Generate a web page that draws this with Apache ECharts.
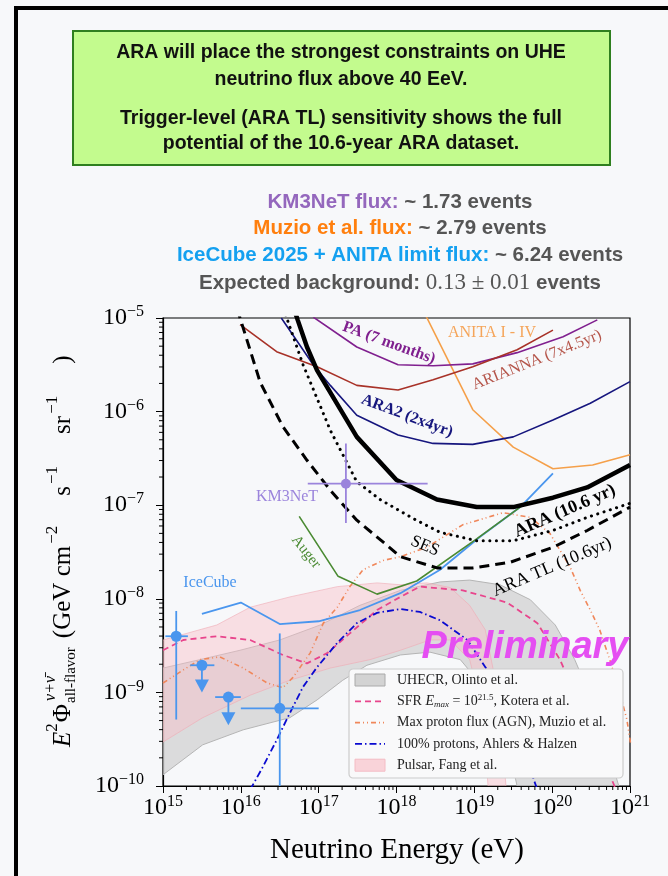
<!DOCTYPE html>
<html>
<head>
<meta charset="utf-8">
<script src="https://cdn.jsdelivr.net/npm/echarts@6/dist/echarts.min.js"></script>
<style>
html, body { margin: 0; padding: 0; background: #f7f8fa; }
#chart { width: 668px; height: 876px; }
</style>
</head>
<body>
<div id="chart"></div>
<script>
// all curves are [log10(E / eV), log10(E^2 Phi / GeV cm^-2 s^-1 sr^-1)]
var araSolid = [[16.69,-4.92],[16.73,-5.02],[16.85,-5.31],[16.98,-5.56],[17.49,-6.27],[18.0,-6.73],[18.52,-6.94],[19.03,-7.02],[19.50,-7.02],[20.01,-6.92],[20.45,-6.81],[21.0,-6.57]];
var sesDotted = [[16.55,-4.9],[16.59,-5.0],[16.80,-5.50],[17.15,-6.20],[17.49,-6.75],[17.79,-6.94],[18.21,-7.14],[18.56,-7.29],[19.03,-7.38],[19.50,-7.38],[20.01,-7.27],[20.45,-7.13],[21.0,-6.98]];
var araTL = [[15.95,-4.9],[15.99,-5.0],[16.25,-5.69],[16.54,-6.16],[16.85,-6.52],[17.15,-6.84],[17.49,-7.16],[17.88,-7.43],[18.05,-7.55],[18.52,-7.67],[18.98,-7.67],[19.46,-7.61],[20.01,-7.45],[20.45,-7.27],[21.0,-7.02]];
var paLimit = [[16.93,-4.99],[17.49,-5.31],[18.02,-5.50],[18.47,-5.51],[18.98,-5.49],[19.55,-5.37],[20.14,-5.20],[20.58,-5.02]];
var ariannaLimit = [[15.99,-5.07],[16.46,-5.36],[16.98,-5.52],[17.49,-5.72],[18.02,-5.77],[18.47,-5.66],[18.98,-5.52],[19.55,-5.34],[20.01,-5.13]];
var ara2Limit = [[16.52,-5.0],[16.93,-5.50],[17.15,-5.72],[17.49,-6.04],[18.02,-6.25],[18.47,-6.34],[18.98,-6.35],[19.50,-6.27],[20.01,-6.09],[20.49,-5.91],[21.0,-5.68]];
var anitaLimit = [[18.38,-4.98],[18.98,-5.98],[19.50,-6.38],[20.01,-6.61],[20.52,-6.57],[21.0,-6.46]];
var augerLimit = [[16.75,-7.12],[17.25,-7.76],[17.75,-7.95],[18.26,-7.81],[19.03,-7.36],[19.69,-6.96]];
var icecubeLimit = [[15.50,-8.16],[16.0,-8.04],[16.50,-8.27],[17.0,-8.24],[17.53,-8.12],[18.05,-7.94],[18.56,-7.69],[19.07,-7.34],[19.59,-7.02],[20.01,-6.66]];

var sfrKotera = [[15.0,-8.55],[15.26,-8.44],[15.69,-8.40],[16.12,-8.44],[16.54,-8.60],[16.85,-8.69],[17.11,-8.58],[17.40,-8.37],[17.75,-8.12],[18.05,-7.98],[18.30,-7.87],[18.85,-7.91],[19.42,-8.04],[19.81,-8.26],[20.10,-8.65],[20.29,-9.01],[20.49,-9.37],[20.78,-9.96],[20.82,-10.04]];
var muzioAGN = [[15.0,-8.90],[15.26,-8.76],[15.48,-8.65],[15.73,-8.62],[16.03,-8.74],[16.34,-8.90],[16.54,-8.95],[16.67,-8.84],[16.89,-8.58],[17.06,-8.26],[17.24,-8.09],[17.40,-7.87],[17.57,-7.69],[17.83,-7.59],[18.05,-7.55],[18.39,-7.45],[18.85,-7.21],[19.37,-7.08],[19.72,-7.13],[19.97,-7.30],[20.10,-7.48],[20.23,-7.66],[20.36,-7.91],[20.49,-8.12],[20.61,-8.33],[20.74,-8.65],[20.87,-9.01],[20.96,-9.29],[21.01,-9.56]];
var ahlersProtons = [[16.12,-10.04],[16.28,-9.80],[16.46,-9.51],[16.63,-9.22],[16.80,-8.94],[16.98,-8.73],[17.24,-8.47],[17.49,-8.26],[17.75,-8.15],[18.05,-8.11],[18.30,-8.14],[18.56,-8.23],[18.91,-8.44],[19.11,-8.69],[19.33,-8.97],[19.52,-9.35],[19.72,-9.83],[19.81,-10.04]];

var olintoUpper = [[15.0,-8.74],[15.475,-8.65],[15.99,-8.55],[16.50,-8.44],[17.02,-8.28],[17.53,-8.07],[18.05,-7.91],[18.56,-7.82],[18.94,-7.80],[19.33,-7.85],[19.72,-8.01],[20.04,-8.28],[20.29,-8.65],[20.51,-9.08],[20.70,-9.56],[20.87,-10.04]];
var olintoLower = [[15.0,-9.88],[15.51,-9.56],[16.03,-9.40],[16.63,-9.27],[16.98,-9.08],[17.31,-8.87],[17.62,-8.71],[18.05,-8.60],[18.43,-8.57],[18.82,-8.65],[19.14,-8.97],[19.39,-9.40],[19.56,-10.04]];
var fangUpper = [[15.0,-8.44],[15.69,-8.28],[16.12,-8.09],[16.63,-7.98],[17.24,-7.87],[17.75,-7.83],[18.05,-7.85],[18.39,-7.83],[18.69,-7.88],[18.94,-8.07],[19.14,-8.33],[19.27,-8.87],[19.36,-9.51],[19.41,-10.04]];
var fangLower = [[15.0,-9.53],[15.51,-9.27],[16.12,-9.03],[16.63,-8.87],[17.15,-8.74],[17.66,-8.65],[18.05,-8.55],[18.43,-8.44],[18.69,-8.44],[18.94,-8.65],[19.10,-9.19],[19.18,-10.04]];

// IceCube measured points / upper limits
var icX = [15.17, 15.50, 15.84, 16.50];
var icY = [-8.40, -8.71, -9.05, -9.17];
var icXlo = [15.03, 15.35, 15.67, 16.0];
var icXhi = [15.32, 15.66, 16.0, 17.0];
var icYlo = [-9.29, null, null, -10.0];
var icYhi = [-8.13, null, null, -8.37];
var icArrow = [null, -9.0, -9.35, null];
// KM3NeT event
var kmX = [17.35], kmY = [-6.77], kmXlo = [16.86], kmXhi = [18.40], kmYlo = [-7.19], kmYhi = [-6.34];

var xTickExp = [15, 16, 17, 18, 19, 20, 21];
var yTickExp = [-10, -9, -8, -7, -6, -5];

var SERIF = '"Liberation Serif", "DejaVu Serif", serif';
var SANS = '"Liberation Sans", Arial, sans-serif';
var P = function (v) { return Math.pow(10, v); };
var toXY = function (a) { return a.map(function (p) { return [P(p[0]), P(p[1])]; }); };

var minorX = [], minorY = [];
for (var d = xTickExp[0]; d < xTickExp[xTickExp.length - 1]; d++) for (var k = 2; k < 10; k++) minorX.push(k * P(d));
for (var d2 = yTickExp[0]; d2 < yTickExp[yTickExp.length - 1]; d2++) for (var k2 = 2; k2 < 10; k2++) minorY.push(k2 * P(d2));

function expLabel(v) {
  var e = Math.round(Math.log10(v));
  return '{b|10}{s|' + (e < 0 ? '\u2212' + (-e) : e) + '}';
}
var tickRich = {
  b: { fontFamily: SERIF, fontSize: 24, color: '#000' },
  s: { fontFamily: SERIF, fontSize: 16, color: '#000', padding: [0, 0, 12, 0] }
};

function lineSeries(pts, color, width, type, z, cap) {
  return {
    type: 'line', data: toXY(pts), symbol: 'none', showSymbol: false, silent: true,
    lineStyle: { color: color, width: width, type: type || 'solid', cap: cap || 'butt' },
    z: z || 3, animation: false, clip: true
  };
}

function bandSeries(up, lo, fill, stroke, z) {
  var u = toXY(up), l = toXY(lo).reverse();
  return {
    type: 'custom', coordinateSystem: 'cartesian2d', silent: true, clip: true, z: z, animation: false,
    data: [[1e18, 1e-8]],
    renderItem: function (params, api) {
      var pts = u.concat(l).map(function (q) { return api.coord(q); });
      return { type: 'polygon', shape: { points: pts }, style: { fill: fill, stroke: stroke, lineWidth: 1 } };
    }
  };
}

function errSeries(X, Y, Xlo, Xhi, Ylo, Yhi, arrow, color, r, z) {
  return {
    type: 'custom', coordinateSystem: 'cartesian2d', silent: true, clip: true, z: z, animation: false,
    data: X.map(function (x, i) { return [P(x), P(Y[i])]; }),
    renderItem: function (params, api) {
      var i = params.dataIndex;
      var c = api.coord([P(X[i]), P(Y[i])]);
      var xl = api.coord([P(Xlo[i]), P(Y[i])]), xh = api.coord([P(Xhi[i]), P(Y[i])]);
      var st = { stroke: color, lineWidth: 1.8 };
      var ch = [{ type: 'line', shape: { x1: xl[0], y1: c[1], x2: xh[0], y2: c[1] }, style: st }];
      if (arrow && arrow[i] != null) {
        var tip = api.coord([P(X[i]), P(arrow[i])]);
        ch.push({ type: 'line', shape: { x1: c[0], y1: c[1], x2: c[0], y2: tip[1] - 12 }, style: st });
        ch.push({ type: 'polygon', shape: { points: [[c[0] - 7, tip[1] - 13], [c[0] + 7, tip[1] - 13], [c[0], tip[1]]] }, style: { fill: color } });
      } else {
        var yh = api.coord([P(X[i]), P(Yhi[i])]), yl = api.coord([P(X[i]), P(Ylo[i])]);
        ch.push({ type: 'line', shape: { x1: c[0], y1: yh[1], x2: c[0], y2: yl[1] }, style: st });
      }
      ch.push({ type: 'circle', shape: { cx: c[0], cy: c[1], r: r }, style: { fill: color } });
      return { type: 'group', children: ch };
    }
  };
}

var minorTickSeries = {
  type: 'custom', coordinateSystem: 'cartesian2d', silent: true, clip: false, z: 20, animation: false,
  data: [[1e18, 1e-8]],
  renderItem: function (params, api) {
    var ch = [];
    var st = { stroke: '#000', lineWidth: 1 };
    minorX.forEach(function (v) {
      var c = api.coord([v, P(yTickExp[0])]);
      ch.push({ type: 'line', shape: { x1: c[0], y1: c[1], x2: c[0], y2: c[1] + 4 }, style: st });
    });
    minorY.forEach(function (v) {
      var c = api.coord([P(xTickExp[0]), v]);
      ch.push({ type: 'line', shape: { x1: c[0], y1: c[1], x2: c[0] - 4, y2: c[1] }, style: st });
    });
    return { type: 'group', children: ch };
  }
};

// everything drawn by the graphic component sits on its own layer above the series
function onTop(el) { el.zlevel = 1; el.z = 10; return el; }

// y axis title built from pieces (rotated group)
var mctx = document.createElement('canvas').getContext('2d');
function tw(t, font) { mctx.font = font; return mctx.measureText(t).width; }
var yTitle = [];
var cur = 0;
function piece(t, size, dy, style, gap) {
  var f = (style ? style + ' ' : '') + size + 'px ' + SERIF;
  yTitle.push(onTop({ type: 'text', x: cur, y: dy, style: { text: t, font: f, fill: '#000', verticalAlign: 'middle', align: 'left' } }));
  cur += tw(t, f) + (gap || 0);
}
piece('E', 25, 0, 'italic');
piece('2', 17, -10, '', 1);
piece('\u03A6', 25, 0, '', 1);
(function () {
  var f1 = 'italic 16px ' + SERIF, f2 = '15px ' + SERIF;
  yTitle.push(onTop({ type: 'text', x: cur + 2, y: -12, style: { text: '\u03BD+\u03BD\u0304', font: f1, fill: '#000', verticalAlign: 'middle' } }));
  yTitle.push(onTop({ type: 'text', x: cur, y: 8, style: { text: 'all-flavor', font: f2, fill: '#000', verticalAlign: 'middle' } }));
  cur += tw('all-flavor', f2) + 9;
})();
piece('(GeV cm', 25, 0, '', 2);
piece('\u22122', 17, -10, '', 30);
piece('s', 25, 0, '', 2);
piece('\u22121', 17, -10, '', 32);
piece('sr', 25, 0, '', 2);
piece('\u22121', 17, -10, '', 32);
piece(')', 25, 0, '');

var curveLabels = [
  { t: 'PA (7 months)', x: 389, y: 343, r: -0.35, c: '#80208f', f: 'bold 16px ' + SERIF },
  { t: 'ARA2 (2x4yr)', x: 407, y: 416, r: -0.36, c: '#16167e', f: 'bold 16px ' + SERIF },
  { t: 'ANITA I - IV', x: 492, y: 333, r: 0, c: '#f5a55a', f: '16px ' + SERIF },
  { t: 'ARIANNA (7x4.5yr)', x: 537, y: 360, r: 0.38, c: '#b5564b', f: '16px ' + SERIF },
  { t: 'ARA (10.6 yr)', x: 565, y: 511, r: 0.41, c: '#000', f: 'bold 18px ' + SERIF },
  { t: 'SES', x: 425, y: 546, r: -0.40, c: '#000', f: '17px ' + SERIF },
  { t: 'ARA TL (10.6yr)', x: 552, y: 567, r: 0.40, c: '#000', f: '18px ' + SERIF },
  { t: 'KM3NeT', x: 287, y: 497, r: 0, c: '#9b84dc', f: '16px ' + SERIF },
  { t: 'IceCube', x: 210, y: 583, r: 0, c: '#4a96ee', f: '16px ' + SERIF },
  { t: 'Auger', x: 306, y: 552, r: -0.9, c: '#4a8a32', f: '15px ' + SERIF }
];

var graphics = [
  onTop({ type: 'rect', shape: { x: 16, y: 8, width: 700, height: 900 }, style: { fill: 'none', stroke: '#000', lineWidth: 4 } }),
  onTop({ type: 'rect', shape: { x: 73, y: 31, width: 537, height: 134 }, style: { fill: '#c3fb8e', stroke: '#2f7f1f', lineWidth: 2 } })
];
['ARA will place the strongest constraints on UHE', 'neutrino flux above 40 EeV.', 'Trigger-level (ARA TL) sensitivity shows the full', 'potential of the 10.6-year ARA dataset.'].forEach(function (t, i) {
  graphics.push(onTop({ type: 'text', x: 341, y: [53, 80, 119, 144][i], style: { text: t, font: 'bold 19.5px ' + SANS, fill: '#111', align: 'center', verticalAlign: 'middle' } }));
});
var statRich = function (col) {
  return {
    h: { fontFamily: SANS, fontWeight: 'bold', fontSize: 20.5, fill: col, color: col },
    g: { fontFamily: SANS, fontWeight: 'bold', fontSize: 20.5, fill: '#555', color: '#555' },
    m: { fontFamily: SERIF, fontSize: 23, fill: '#555', color: '#555' }
  };
};
[
  ['{h|KM3NeT flux:}{g| ~ 1.73 events}', '#9467bd', 202],
  ['{h|Muzio et al. flux:}{g| ~ 2.79 events}', '#ff7f0e', 228],
  ['{h|IceCube 2025 + ANITA limit flux:}{g| ~ 6.24 events}', '#14a0f0', 255],
  ['{g|Expected background: }{m|0.13 \u00B1 0.01}{g| events}', '#555', 283]
].forEach(function (s) {
  graphics.push(onTop({ type: 'text', x: 400, y: s[2], style: { text: s[0], rich: statRich(s[1]), align: 'center', verticalAlign: 'middle' } }));
});
curveLabels.forEach(function (l) {
  graphics.push(onTop({ type: 'text', x: l.x, y: l.y, rotation: l.r, style: { text: l.t, font: l.f, fill: l.c, align: 'center', verticalAlign: 'middle' } }));
});
graphics.push(onTop({ type: 'text', x: 525, y: 648, style: { text: 'Preliminary', font: 'italic bold 38px ' + SANS, fill: '#e54ef2', align: 'center', verticalAlign: 'middle' } }));
graphics.push(onTop({ type: 'group', x: 63, y: 747, rotation: Math.PI / 2, children: yTitle }));
graphics.push(onTop({ type: 'text', x: 397, y: 850, style: { text: 'Neutrino Energy (eV)', font: '29px ' + SERIF, fill: '#000', align: 'center', verticalAlign: 'middle' } }));

// legend box
var legRows = [
  { kind: 'patch', fill: '#d3d3d3', stroke: '#aaaaaa', text: 'UHECR, Olinto et al.' },
  { kind: 'line', color: '#e8458c', dash: [6, 4], text: 'SFR {i|E}{sb|max}{n| = 10}{sp|21.5}{n|, Kotera et al.}' },
  { kind: 'line', color: '#f0875a', dash: [5, 3, 1, 3, 1, 3], text: 'Max proton flux (AGN), Muzio et al.' },
  { kind: 'line', color: '#0a0ad0', dash: [7, 3, 1.5, 3], text: '100% protons, Ahlers & Halzen' },
  { kind: 'patch', fill: '#f9d3d9', stroke: '#f4bcc4', text: 'Pulsar, Fang et al.' }
];
var legChildren = [onTop({ type: 'rect', shape: { x: 0, y: 0, width: 274, height: 109, r: 4 }, style: { fill: '#f9f9fa', stroke: '#cccccc', lineWidth: 1.2 } })];
legRows.forEach(function (r, i) {
  var y = 11 + i * 21.3;
  if (r.kind === 'patch') {
    legChildren.push(onTop({ type: 'rect', shape: { x: 6, y: y - 6, width: 30, height: 12 }, style: { fill: r.fill, stroke: r.stroke, lineWidth: 1 } }));
  } else {
    legChildren.push(onTop({ type: 'line', shape: { x1: 6, y1: y, x2: 36, y2: y }, style: { stroke: r.color, lineWidth: 1.8, lineDash: r.dash } }));
  }
  legChildren.push(onTop({ type: 'text', x: 48, y: y, style: {
    text: r.text, font: '14px ' + SERIF, fill: '#222', verticalAlign: 'middle',
    rich: i === 1 ? {
      i: { fontFamily: SERIF, fontStyle: 'italic', fontSize: 14, fill: '#222' },
      sb: { fontFamily: SERIF, fontStyle: 'italic', fontSize: 9, fill: '#222', padding: [6, 0, 0, 0] },
      n: { fontFamily: SERIF, fontSize: 14, fill: '#222' },
      sp: { fontFamily: SERIF, fontSize: 9, fill: '#222', padding: [0, 0, 7, 0] }
    } : undefined
  } }));
});
graphics.push(onTop({ type: 'group', x: 349, y: 669, children: legChildren }));

var chart = echarts.init(document.getElementById('chart'), null, { renderer: 'canvas' });
chart.setOption({
  backgroundColor: '#f7f8fa',
  animation: false,
  grid: { left: 163, top: 318, width: 467, height: 468, show: true, borderColor: '#000', borderWidth: 1.2, backgroundColor: 'transparent', outerBoundsMode: 'none' },
  xAxis: {
    type: 'log', logBase: 10, min: P(xTickExp[0]), max: P(xTickExp[xTickExp.length - 1]), splitNumber: 6,
    axisLine: { lineStyle: { color: '#000', width: 1.2 } },
    axisTick: { inside: false, length: 7, lineStyle: { color: '#000', width: 1 } },
    splitLine: { show: false },
    axisLabel: { margin: 8, formatter: expLabel, rich: tickRich }
  },
  yAxis: {
    type: 'log', logBase: 10, min: P(yTickExp[0]), max: P(yTickExp[yTickExp.length - 1]), splitNumber: 5,
    axisLine: { lineStyle: { color: '#000', width: 1.2 } },
    axisTick: { inside: false, length: 7, lineStyle: { color: '#000', width: 1 } },
    splitLine: { show: false },
    axisLabel: { margin: 19, formatter: expLabel, rich: tickRich }
  },
  graphic: { zlevel: 1, z: 10, elements: graphics },
  series: [
    bandSeries(olintoUpper, olintoLower, 'rgba(200,200,200,0.6)', '#b5b5b5', 1),
    bandSeries(fangUpper, fangLower, 'rgba(248,190,200,0.45)', 'rgba(240,170,180,0.6)', 2),
    lineSeries(sfrKotera, '#e8458c', 1.8, [6, 4], 4),
    lineSeries(muzioAGN, '#f0875a', 1.6, [5, 3, 1, 3, 1, 3], 4),
    lineSeries(ahlersProtons, '#0a0ad0', 1.8, [7, 3, 1.5, 3], 4),
    lineSeries(icecubeLimit, '#4a96ee', 1.8, 'solid', 5),
    lineSeries(augerLimit, '#4a8a32', 1.6, 'solid', 5),
    lineSeries(anitaLimit, '#f5a04a', 1.6, 'solid', 5),
    lineSeries(paLimit, '#80208f', 1.6, 'solid', 5),
    lineSeries(ariannaLimit, '#a83228', 1.6, 'solid', 5),
    lineSeries(ara2Limit, '#16167e', 1.6, 'solid', 5),
    lineSeries(araTL, '#000', 3, [10, 6], 6),
    lineSeries(sesDotted, '#000', 3, [0.1, 6.5], 6, 'round'),
    lineSeries(araSolid, '#000', 4.5, 'solid', 7),
    errSeries(icX, icY, icXlo, icXhi, icYlo, icYhi, icArrow, '#4a96ee', 5.5, 8),
    errSeries(kmX, kmY, kmXlo, kmXhi, kmYlo, kmYhi, null, '#9b84dc', 5, 8),
    minorTickSeries
  ]
});
</script>
</body>
</html>
